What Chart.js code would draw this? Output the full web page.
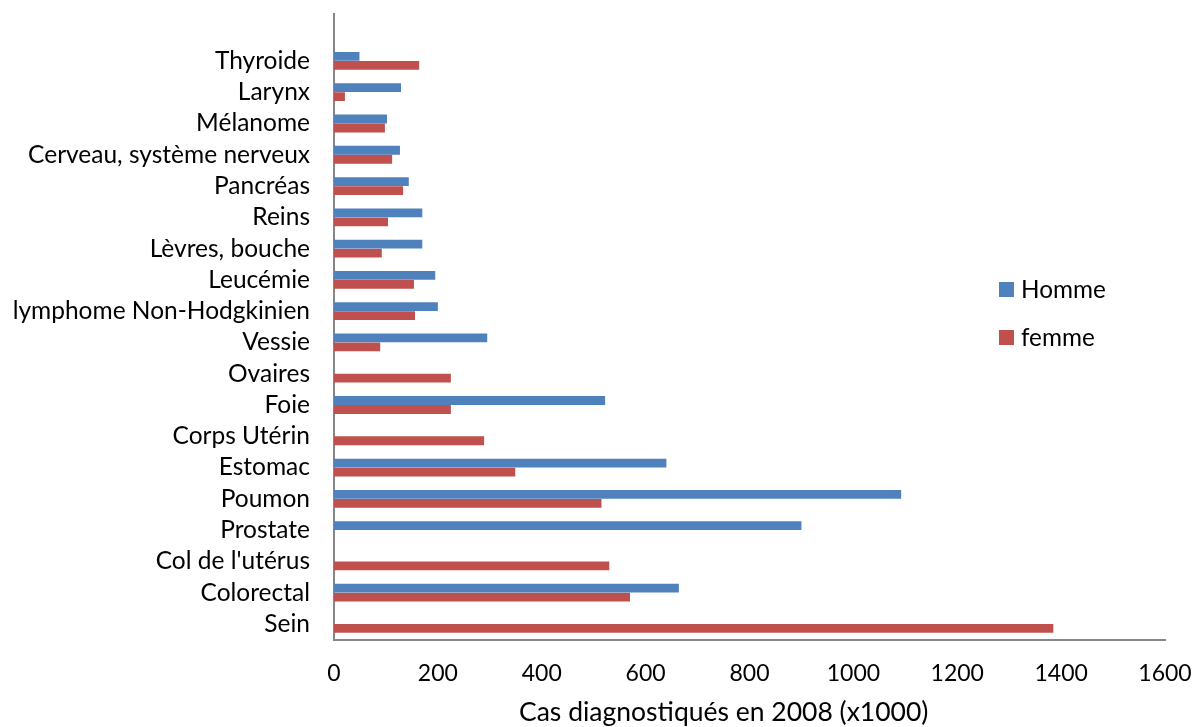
<!DOCTYPE html>
<html>
<head>
<meta charset="utf-8">
<script src="https://cdn.jsdelivr.net/npm/chart.js@4"></script>
<style>
  html, body { margin: 0; padding: 0; background: #fff; }
  #wrap { position: relative; width: 1196px; height: 727px; font-family: Lato, sans-serif; color: #000; }
  .sw { position: absolute; width: 15px; height: 15px; }
  .lt { position: absolute; font-size: 24.3px; line-height: 30px; white-space: nowrap; }
  #xtitle { position: absolute; left: 519px; top: 696px; font-size: 26.5px; line-height: 30px; white-space: nowrap; }
</style>
</head>
<body>
<div id="wrap">
  <canvas id="c" width="1196" height="727"></canvas>
  <div id="legend"></div>
  <div id="xtitle"></div>
</div>
<script>
const categories = ["", "Thyroide", "Larynx", "Mélanome", "Cerveau, système nerveux", "Pancréas", "Reins",
  "Lèvres, bouche", "Leucémie", "lymphome Non-Hodgkinien", "Vessie", "Ovaires", "Foie", "Corps Utérin",
  "Estomac", "Poumon", "Prostate", "Col de l'utérus", "Colorectal", "Sein"];
const homme = [null, 49, 129, 102, 127, 144, 170, 170, 195, 200, 295, null, 522, null, 640, 1092, 900, null, 664, null];
const femme = [null, 164, 21, 98, 112, 133, 104, 92, 154, 156, 89, 225, 225, 289, 349, 515, null, 530, 570, 1385];
const seriesNames = ["Homme", "femme"];
const seriesColors = ["#4F81BD", "#C0504D"];
const xTicks = [0, 200, 400, 600, 800, 1000, 1200, 1400, 1600];
const xTitle = "Cas diagnostiqués en 2008 (x1000)";

const FONT = "Lato, sans-serif";
Chart.defaults.font.family = FONT;
Chart.defaults.color = "#000";

new Chart(document.getElementById("c"), {
  type: "bar",
  data: {
    labels: categories,
    datasets: [
      { label: seriesNames[0], data: homme, backgroundColor: seriesColors[0], categoryPercentage: 0.575, barPercentage: 0.98 },
      { label: seriesNames[1], data: femme, backgroundColor: seriesColors[1], categoryPercentage: 0.575, barPercentage: 0.98 }
    ]
  },
  options: {
    indexAxis: "y",
    responsive: false,
    animation: false,
    events: [],
    layout: { padding: { top: 14, right: 31, bottom: 0, left: 0 } },
    plugins: { legend: { display: false }, tooltip: { enabled: false } },
    scales: {
      y: {
        grid: { display: false, drawTicks: false },
        border: { display: true, color: "#868686", width: 2 },
        ticks: { font: { size: 24.5 }, padding: 24, autoSkip: false, color: "#000" },
        afterFit: (s) => { s.width = 334; s.paddingTop = 0; s.paddingBottom = 0; }
      },
      x: {
        min: 0, max: 1600,
        afterBuildTicks: (s) => { s.ticks = xTicks.map(v => ({ value: v })); },
        grid: { display: false, drawTicks: false },
        border: { display: true, color: "#868686", width: 2 },
        ticks: { font: { size: 23 }, padding: 20, color: "#000", maxRotation: 0, callback: (v) => String(v) },
        title: { display: false },
        afterFit: (s) => { s.height = 87.4; s.paddingLeft = 0; s.paddingRight = 0; }
      }
    }
  }
});

const leg = document.getElementById("legend");
const legTop = [282, 330];
seriesNames.forEach((n, i) => {
  const sw = document.createElement("span");
  sw.className = "sw";
  sw.style.left = "999px";
  sw.style.top = legTop[i] + "px";
  sw.style.background = seriesColors[i];
  leg.appendChild(sw);
  const t = document.createElement("span");
  t.className = "lt";
  t.style.left = "1021px";
  t.style.top = (legTop[i] - 8) + "px";
  t.textContent = n;
  leg.appendChild(t);
});
document.getElementById("xtitle").textContent = xTitle;
</script>
</body>
</html>
